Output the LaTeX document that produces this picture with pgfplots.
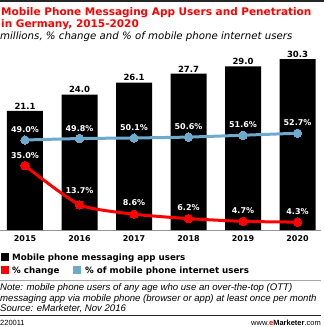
\documentclass[border=0pt]{standalone}
\usepackage{pgfplots}
\usepackage{pgfplotstable}
\pgfplotsset{compat=1.18}
\usepackage{fontspec}
\setmainfont{DejaVu Sans}
\newfontfamily\arialf{Liberation Sans}
\definecolor{emred}{RGB}{255,0,0}
\definecolor{emblue}{RGB}{110,170,204}
\definecolor{axgray}{RGB}{150,150,150}

\pgfplotstableread{
x users chg pen roff
0 21.1 35.0 49.0 4
1 24.0 13.7 49.8 8
2 26.1 8.6 50.1 5
3 27.7 6.2 50.6 5
4 29.0 4.7 51.6 4
5 30.3 4.3 52.7 4
}\datatable

\begin{document}
\begin{tikzpicture}
\useasboundingbox (0pt,0pt) rectangle (324pt,-327pt);
\fill[black!85] (0pt,0pt) rectangle (324pt,-2pt);
\node[anchor=base west, inner sep=0, text=emred, font=\fontsize{10.5}{12.5}\selectfont\bfseries] at (1pt,-15pt) {Mobile Phone Messaging App Users and Penetration};
\node[anchor=base west, inner sep=0, text=emred, font=\fontsize{10.5}{12.5}\selectfont\bfseries] at (1pt,-27pt) {in Germany, 2015-2020};
\node[anchor=base west, inner sep=0, font=\fontsize{10.2}{12}\selectfont\itshape] at (0pt,-39pt) {millions, \% change and \% of mobile phone internet users};

\begin{axis}[at={(0pt,-230pt)}, anchor=south west, scale only axis,
  width=321pt, height=180pt,
  xmin=-0.4587, xmax=5.431, ymin=0, ymax=31.9,
  axis x line*=bottom, axis y line=none,
  x axis line style={axgray, line width=0.8pt, -},
  xtick={0,1,2,3,4,5}, xticklabels={2015,2016,2017,2018,2019,2020},
  major tick length=0pt,
  xticklabel style={font=\fontsize{8}{9}\selectfont\bfseries, yshift=-2.5pt},
  /pgf/number format/assume math mode=true,
  clip=false]
\addplot[ybar, bar width=36pt, fill=black, draw=none,
  nodes near coords={\pgfmathprintnumber[fixed,fixed zerofill,precision=1]{\pgfplotspointmeta}},
  nodes near coords style={font=\fontsize{8.5}{10}\selectfont\bfseries, text=black, anchor=south, inner sep=1.5pt}]
  table[x=x,y=users]{\datatable};
\end{axis}

\begin{axis}[at={(0pt,-230pt)}, anchor=south west, scale only axis,
  width=321pt, height=180pt,
  xmin=-0.4587, xmax=5.431, ymin=0, ymax=98,
  hide axis, clip=false,
  /pgf/number format/assume math mode=true]
\addplot[emblue, line width=3pt, smooth, tension=0.35, mark=*, mark size=4.2pt, mark options={fill=emblue, draw=emblue, line width=0pt},
  nodes near coords={\pgfmathprintnumber[fixed,fixed zerofill,precision=1]{\pgfplotspointmeta}\%},
  nodes near coords style={font=\fontsize{8}{10}\selectfont\bfseries, text=white, anchor=south, yshift=4pt}]
  table[x=x,y=pen]{\datatable};
\addplot[emred, line width=3pt, smooth, tension=0.35, mark=*, mark size=4.2pt, mark options={fill=emred, draw=emred, line width=0pt},
  visualization depends on={\thisrow{roff} \as \roff},
  nodes near coords={\pgfmathprintnumber[fixed,fixed zerofill,precision=1]{\pgfplotspointmeta}\%},
  nodes near coords style={font=\fontsize{8}{10}\selectfont\bfseries, text=white, anchor=south, yshift=\roff}]
  table[x=x,y=chg]{\datatable};
\end{axis}

% legend
\fill[black] (1pt,-252.5pt) rectangle (9pt,-260.5pt);
\node[anchor=base west, inner sep=0, font=\fontsize{8.7}{10}\selectfont\bfseries] at (12pt,-260pt) {Mobile phone messaging app users};
\fill[emred] (1pt,-265.5pt) rectangle (9pt,-273.5pt);
\node[anchor=base west, inner sep=0, font=\fontsize{8.7}{10}\selectfont\bfseries] at (12pt,-273pt) {\% change};
\fill[emblue] (73pt,-265.5pt) rectangle (81pt,-273.5pt);
\node[anchor=base west, inner sep=0, font=\fontsize{8.7}{10}\selectfont\bfseries] at (85pt,-273pt) {\% of mobile phone internet users};

\draw[black!35, line width=0.6pt] (0pt,-280pt) -- (321pt,-280pt);
\node[anchor=base west, inner sep=0, font=\arialf\fontsize{9.6}{10.5}\selectfont\itshape] at (0pt,-290.5pt) {Note: mobile phone users of any age who use an over-the-top (OTT)};
\node[anchor=base west, inner sep=0, font=\arialf\fontsize{9.6}{10.5}\selectfont\itshape] at (0pt,-301.2pt) {messaging app via mobile phone (browser or app) at least once per month};
\node[anchor=base west, inner sep=0, font=\arialf\fontsize{9.6}{10.5}\selectfont\itshape] at (0pt,-311.8pt) {Source: eMarketer, Nov 2016};
\draw[black!85, line width=1.6pt] (0pt,-315.5pt) -- (321pt,-315.5pt);
\node[anchor=base west, inner sep=0, font=\arialf\fontsize{7.5}{9}\selectfont] at (0pt,-325.5pt) {220011};
\node[anchor=base east, inner sep=0, font=\arialf\fontsize{7.5}{9}\selectfont] at (321pt,-325.5pt) {www.\textcolor{emred}{\bfseries e}\textbf{Marketer}.com};
\end{tikzpicture}
\end{document}
